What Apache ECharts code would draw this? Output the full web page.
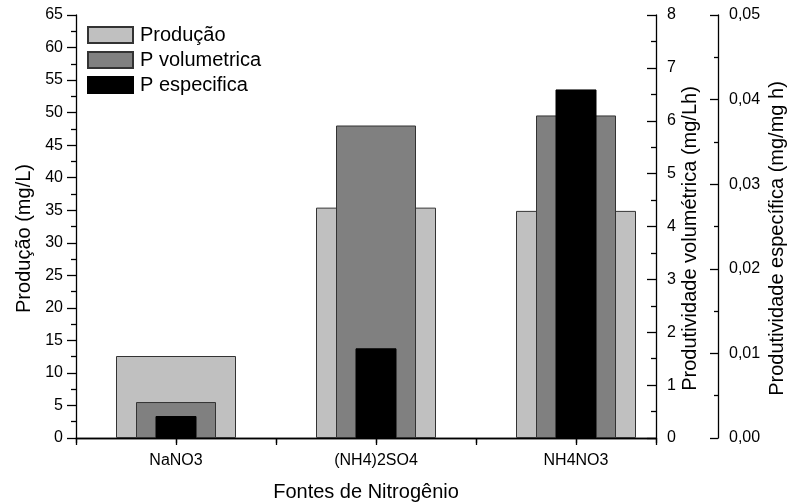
<!DOCTYPE html>
<html>
<head>
<meta charset="utf-8">
<script src="https://cdn.jsdelivr.net/npm/echarts@6/dist/echarts.min.js"></script>
<style>html,body{margin:0;padding:0;background:#fff}#c{width:791px;height:503px}</style>
</head>
<body>
<div id="c"></div>
<script>
const categories = ['NaNO3', '(NH4)2SO4', 'NH4NO3'];
const producao = [12.6, 35.4, 34.9];          // mg/L (left axis)
const pVolumetrica = [0.68, 5.91, 6.10];      // mg/Lh (middle right axis)
const pEspecifica = [0.0026, 0.0106, 0.0412]; // mg/mg h (far right axis)
const seriesNames = ['Produção', 'P volumetrica', 'P especifica'];

const FONT = '"Liberation Sans", Arial, sans-serif';
const pts = arr => arr.map((v, i) => [i + 1, v]);

const chart = echarts.init(document.getElementById('c'), null, {renderer: 'canvas'});
const axisLine = {show: true, lineStyle: {color: '#000', width: 1.3}};
const xBase = {type: 'value', min: 0.5, max: 3.4, interval: 0.5, splitLine: {show: false}};

chart.setOption({
  animation: false,
  backgroundColor: '#fff',
  textStyle: {fontFamily: FONT},
  grid: {left: 76, right: 135, top: 15, bottom: 65, outerBoundsMode: 'none', containLabel: false},
  legend: {
    orient: 'vertical', left: 82, top: 20,
    itemWidth: 45, itemHeight: 16, itemGap: 5, icon: 'rect',
    textStyle: {fontSize: 20, color: '#000', fontFamily: FONT, padding: [0, 0, 0, 2]},
    data: seriesNames
  },
  xAxis: [
    Object.assign({}, xBase, {
      position: 'bottom',
      name: 'Fontes de Nitrogênio', nameLocation: 'middle', nameGap: 44, nameMoveOverlap: false,
      nameTextStyle: {fontSize: 20, color: '#000', fontFamily: FONT},
      axisLine: axisLine,
      axisTick: {show: true, inside: false, length: 7, lineStyle: {color: '#000', width: 1.3}},
      axisLabel: {show: true, fontSize: 16, color: '#000', margin: 15, fontFamily: FONT,
        formatter: v => (Math.abs(v - Math.round(v)) < 1e-9 && categories[Math.round(v) - 1]) || ''}
    }),
    Object.assign({}, xBase, {
      position: 'top',
      axisLine: axisLine,
      axisTick: {show: true, inside: true, length: 5, lineStyle: {color: '#000', width: 1.3}},
      axisLabel: {show: false}
    }),
    Object.assign({}, xBase, {position: 'bottom', show: false})
  ],
  yAxis: [
    {
      type: 'value', position: 'left', min: 0, max: 65, interval: 5,
      name: 'Produção (mg/L)', nameLocation: 'middle', nameGap: 42, nameMoveOverlap: false,
      nameTextStyle: {fontSize: 20, color: '#000', fontFamily: FONT, padding: [0, 24, 0, 0]},
      axisLine: axisLine,
      axisTick: {show: true, inside: false, length: 9, lineStyle: {color: '#000', width: 1.3}},
      minorTick: {show: true, splitNumber: 2, length: 5, lineStyle: {color: '#000', width: 1.3}},
      axisLabel: {fontSize: 16, color: '#000', margin: 13, fontFamily: FONT},
      splitLine: {show: false}
    },
    {
      type: 'value', position: 'right', min: 0, max: 8, interval: 1,
      name: 'Produtividade volumétrica (mg/Lh)', nameLocation: 'middle', nameGap: 24, nameMoveOverlap: false,
      nameTextStyle: {fontSize: 20, color: '#000', fontFamily: FONT, padding: [0, 24, 0, 0]},
      axisLine: axisLine,
      axisTick: {show: true, inside: true, length: 9, lineStyle: {color: '#000', width: 1.3}},
      minorTick: {show: true, splitNumber: 2, length: 5, lineStyle: {color: '#000', width: 1.3}},
      axisLabel: {fontSize: 16, color: '#000', margin: 11, fontFamily: FONT},
      splitLine: {show: false}
    },
    {
      type: 'value', position: 'right', offset: 62, min: 0, max: 0.05, interval: 0.01,
      name: 'Produtividade específica (mg/mg h)', nameLocation: 'middle', nameGap: 49, nameMoveOverlap: false,
      nameTextStyle: {fontSize: 20, color: '#000', fontFamily: FONT, padding: [0, 24, 0, 0]},
      axisLine: axisLine,
      axisTick: {show: true, inside: true, length: 8, lineStyle: {color: '#000', width: 1.3}},
      minorTick: {show: true, splitNumber: 2, length: 4, lineStyle: {color: '#000', width: 1.3}},
      axisLabel: {fontSize: 16, color: '#000', margin: 11, fontFamily: FONT,
        formatter: v => v.toFixed(2).replace('.', ',')},
      splitLine: {show: false}
    }
  ],
  series: [
    {name: seriesNames[0], type: 'bar', xAxisIndex: 0, yAxisIndex: 0, barWidth: 120,
      itemStyle: {color: '#c0c0c0', borderColor: '#333', borderWidth: 1}, data: pts(producao)},
    {name: seriesNames[1], type: 'bar', xAxisIndex: 1, yAxisIndex: 1, barWidth: 80,
      itemStyle: {color: '#808080', borderColor: '#333', borderWidth: 1}, data: pts(pVolumetrica)},
    {name: seriesNames[2], type: 'bar', xAxisIndex: 2, yAxisIndex: 2, barWidth: 41,
      itemStyle: {color: '#000', borderColor: '#000', borderWidth: 1}, data: pts(pEspecifica)}
  ]
});
</script>
</body>
</html>
